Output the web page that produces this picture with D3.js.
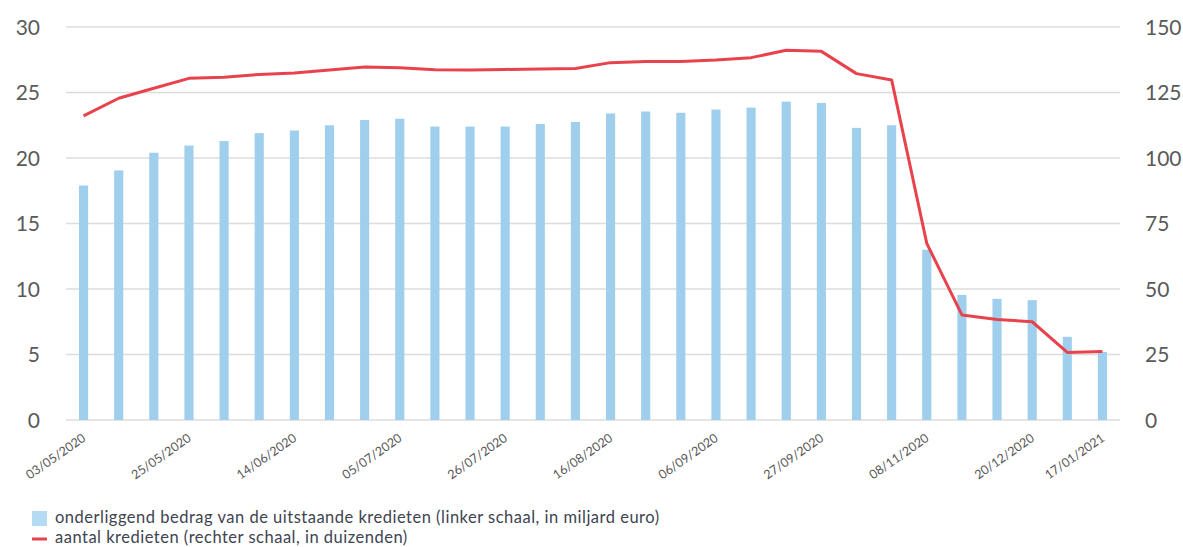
<!DOCTYPE html>
<html><head><meta charset="utf-8">
<script src="https://cdn.jsdelivr.net/npm/d3@7"></script>
<style>
html,body{margin:0;padding:0;background:#fff;}
svg{display:block;font-family:Lato,"Open Sans",sans-serif;}
</style></head>
<body>
<svg id="c" width="1183" height="547"></svg>
<script>
const dates = ["03/05/2020","10/05/2020","17/05/2020","25/05/2020","31/05/2020","07/06/2020","14/06/2020","21/06/2020","28/06/2020","05/07/2020","12/07/2020","19/07/2020","26/07/2020","02/08/2020","09/08/2020","16/08/2020","23/08/2020","30/08/2020","06/09/2020","13/09/2020","20/09/2020","27/09/2020","11/10/2020","25/10/2020","08/11/2020","22/11/2020","06/12/2020","20/12/2020","03/01/2021","17/01/2021"];
const shownLabels = ["03/05/2020","25/05/2020","14/06/2020","05/07/2020","26/07/2020","16/08/2020","06/09/2020","27/09/2020","08/11/2020","20/12/2020","17/01/2021"];
const amount = [17.9,19.05,20.4,20.95,21.3,21.9,22.1,22.5,22.9,23.0,22.4,22.4,22.4,22.6,22.75,23.4,23.55,23.45,23.7,23.85,24.3,24.2,22.3,22.5,13.0,9.55,9.25,9.15,6.35,5.2];
const count = [116.1,122.8,126.6,130.4,130.8,131.9,132.4,133.6,134.7,134.4,133.7,133.6,133.8,134.0,134.2,136.4,136.8,136.8,137.4,138.3,141.1,140.7,132.2,129.8,67.4,40.1,38.4,37.5,25.8,26.1];
const leftTicks = [0,5,10,15,20,25,30];
const rightTicks = [0,25,50,75,100,125,150];
const legendLabels = ["onderliggend bedrag van de uitstaande kredieten (linker schaal, in miljard euro)","aantal kredieten (rechter schaal, in duizenden)"];

const svg = d3.select("#c");
const L = 66, R = 1120, T = 27, B = 420;
const x = d3.scaleBand().domain(dates).range([L, R]).paddingInner(0.74).paddingOuter(0.37);
const yL = d3.scaleLinear().domain([0,30]).range([B, T]);
const yR = d3.scaleLinear().domain([0,150]).range([B, T]);

// grid
svg.append("g").selectAll("line").data(leftTicks).join("line")
  .attr("x1", L).attr("x2", R)
  .attr("y1", d => yL(d)).attr("y2", d => yL(d))
  .attr("stroke", "#dcdcdc").attr("stroke-width", 1.5);

// bars
svg.append("g").selectAll("rect").data(amount).join("rect")
  .attr("x", (d,i) => x(dates[i]))
  .attr("width", x.bandwidth())
  .attr("y", d => yL(d))
  .attr("height", d => B - yL(d))
  .attr("fill", "#a0cfee");

// line
const line = d3.line().x((d,i) => x(dates[i]) + x.bandwidth()/2).y(d => yR(d));
svg.append("path").datum(count).attr("d", line)
  .attr("fill", "none").attr("stroke", "#e8434d").attr("stroke-width", 3).attr("stroke-linejoin", "round");

// left axis
const axL = d3.axisLeft(yL).tickValues(leftTicks).tickSize(0).tickPadding(0);
const gL = svg.append("g").attr("transform", `translate(40,0)`).call(axL);
gL.select(".domain").remove();
gL.selectAll("text").attr("font-size", 21).attr("fill", "#5a5a5a").attr("font-family", "Lato,'Open Sans',sans-serif").attr("dy", "0.35em");

// right axis
const axR = d3.axisRight(yR).tickValues(rightTicks).tickSize(0).tickPadding(0);
const gR = svg.append("g").attr("transform", `translate(1145,0)`).call(axR);
gR.select(".domain").remove();
gR.selectAll("text").attr("font-size", 21).attr("fill", "#5a5a5a").attr("font-family", "Lato,'Open Sans',sans-serif").attr("dy", "0.35em");

// x axis labels
const axX = d3.axisBottom(x).tickValues(shownLabels).tickSize(0).tickPadding(0);
const gX = svg.append("g").attr("transform", `translate(0,${B})`).call(axX);
gX.select(".domain").remove();
gX.selectAll("text")
  .attr("font-size", 12.5).attr("fill", "#555").attr("font-family", "Lato,'Open Sans',sans-serif")
  .attr("text-anchor", "end").attr("dy", 0).attr("y", 0)
  .attr("transform", "translate(3,20) rotate(-35)");

// legend
const lg = svg.append("g");
lg.append("rect").attr("x", 32).attr("y", 511).attr("width", 15).attr("height", 15).attr("fill", "#b4dbf4");
lg.append("text").attr("x", 55).attr("y", 523).text(legendLabels[0])
  .attr("font-size", 16.5).attr("letter-spacing", 0.5).attr("fill", "#3e4450");
lg.append("line").attr("x1", 32).attr("x2", 47).attr("y1", 539).attr("y2", 539).attr("stroke", "#e8434d").attr("stroke-width", 3);
lg.append("text").attr("x", 55).attr("y", 543).text(legendLabels[1])
  .attr("font-size", 16.5).attr("letter-spacing", 0.5).attr("fill", "#3e4450");
</script>
</body></html>
